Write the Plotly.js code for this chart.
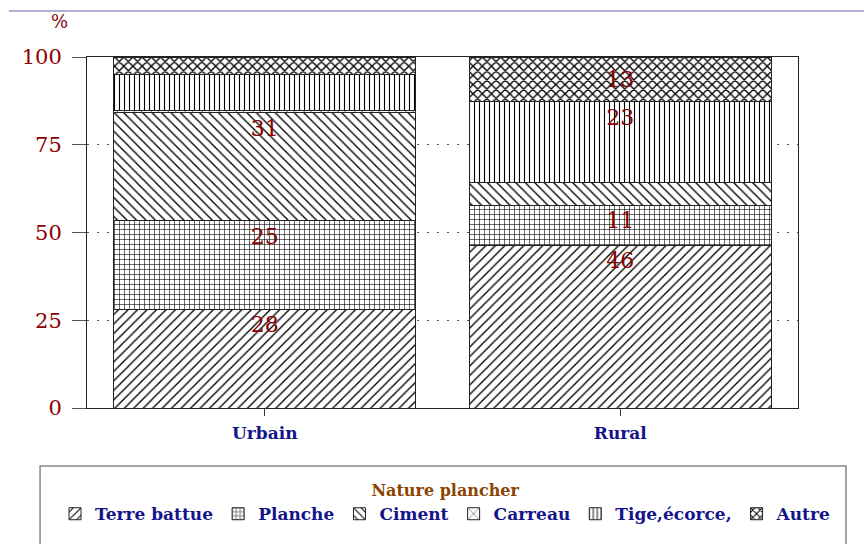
<!DOCTYPE html>
<html>
<head>
<meta charset="utf-8">
<script src="https://cdn.plot.ly/plotly-3.0.1.min.js"></script>
<style>html,body{margin:0;padding:0;background:#fff;}</style>
</head>
<body>
<div id="chart" style="width:864px;height:544px;"></div>
<script>
// Categories
const categories = ['Urbain', 'Rural'];
// Series (percent shares of floor type)
const seriesNames = ['Terre battue', 'Planche', 'Ciment', 'Carreau', 'Tige,écorce,', 'Autre'];
const terreBattue = [28.2, 46.4];
const planche     = [25.1, 11.4];
const ciment      = [30.8, 6.4];
const carreau     = [0.8, 0.0];
const tige        = [10.0, 23.0];
const autre       = [5.1, 12.8];
const yTickVals = [0, 25, 50, 75, 100];
const yTickText = ['0', '25', '50', '75', '100'];

const seriesValues = [terreBattue, planche, ciment, carreau, tige, autre];
const patterns = [
  {shape: '/', size: 6.7, solidity: 0.2},
  {shape: '+', size: 5, solidity: 0.22},
  {shape: '\\', size: 6.7, solidity: 0.2},
  {shape: 'x', size: 12, solidity: 0.1},
  {shape: '|', size: 5, solidity: 0.22},
  {shape: 'x', size: 6.5, solidity: 0.38}
];
const anchors = ['end', 'end', 'end', 'end', 'end', 'middle'];

const serif = 'DejaVu Serif, Liberation Serif, serif';
const darkRed = '#8B0000';
const navy = '#14148a';

const traces = seriesNames.map((name, i) => ({
  type: 'bar',
  name: name,
  x: categories,
  y: seriesValues[i],
  text: seriesValues[i].map(v => v >= 10.5 ? String(Math.round(v)) : ''),
  textposition: 'inside',
  insidetextanchor: anchors[i],
  textangle: 0,
  textfont: {family: serif, size: 22, color: darkRed},
  insidetextfont: {family: serif, size: 22, color: darkRed},
  hoverinfo: 'skip',
  marker: {
    color: '#ffffff',
    line: {color: '#222', width: 1},
    pattern: {
      shape: patterns[i].shape,
      size: patterns[i].size,
      solidity: patterns[i].solidity,
      fgcolor: '#000',
      bgcolor: '#fff',
      fillmode: 'replace'
    }
  }
}));

const layout = {
  width: 864,
  height: 544,
  autosize: false,
  margin: {l: 87, r: 66, t: 57, b: 136, pad: 0, autoexpand: false},
  paper_bgcolor: '#fff',
  plot_bgcolor: '#fff',
  barmode: 'stack',
  bargap: 0.15,
  showlegend: true,
  xaxis: {
    type: 'category',
    range: [-0.5, 1.5],
    showline: true,
    mirror: true,
    linecolor: '#222',
    linewidth: 1,
    ticks: 'outside',
    ticklen: 7,
    tickcolor: '#333',
    showgrid: false,
    zeroline: false,
    tickfont: {family: serif, size: 17, color: navy, weight: 'bold'},
    ticklabelstandoff: 3
  },
  yaxis: {
    range: [0, 100],
    tickvals: yTickVals,
    ticktext: yTickText,
    showline: true,
    mirror: true,
    linecolor: '#222',
    linewidth: 1,
    ticks: 'outside',
    ticklen: 14,
    tickcolor: '#555',
    showgrid: true,
    gridcolor: '#555',
    gridwidth: 1,
    griddash: '2px,8px',
    zeroline: false,
    tickfont: {family: serif, size: 21, color: darkRed},
    ticklabelstandoff: 6
  },
  legend: {
    orientation: 'h',
    x: -0.045,
    xanchor: 'left',
    y: -0.192,
    yanchor: 'top',
    traceorder: 'normal',
    bgcolor: 'rgba(0,0,0,0)',
    borderwidth: 0,
    font: {family: serif, size: 17, color: navy, weight: 'bold'},
    title: {
      text: 'Nature plancher',
      side: 'top center',
      font: {family: serif, size: 16, color: '#8B4500', weight: 'bold'}
    }
  },
  annotations: [{
    text: '%',
    xref: 'paper', yref: 'paper',
    x: -0.038, y: 1.10,
    xanchor: 'center', yanchor: 'middle',
    showarrow: false,
    font: {family: serif, size: 18, color: darkRed}
  }],
  shapes: [
    {type: 'line', xref: 'paper', yref: 'paper', x0: -0.11, x1: 1.1, y0: 1.131, y1: 1.131,
     line: {color: '#6464a8', width: 1.2}},
    {type: 'rect', xref: 'paper', yref: 'paper', x0: -0.066, x1: 1.0675, y0: -0.165, y1: -0.5,
     line: {color: '#888', width: 1.5}, fillcolor: 'rgba(0,0,0,0)'}
  ]
};

Plotly.newPlot('chart', traces, layout, {displayModeBar: false, staticPlot: true});
</script>
</body>
</html>
